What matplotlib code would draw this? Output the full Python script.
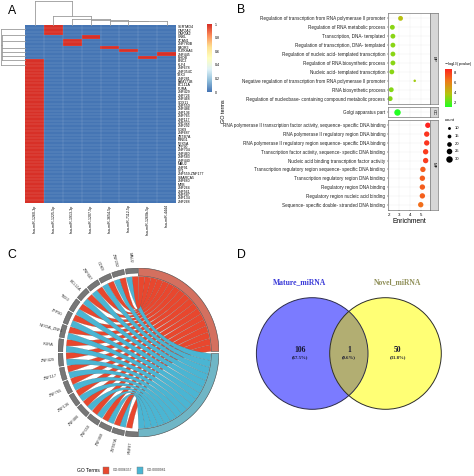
#!/usr/bin/env python3
"""Four panel miRNA target figure: heatmap, GO dot plot, GO chord, Venn."""
import numpy as np
import matplotlib
matplotlib.use("Agg")
import matplotlib.pyplot as plt
from matplotlib.colors import LinearSegmentedColormap
from matplotlib.patches import Circle, Path, PathPatch, Rectangle

plt.rcParams["font.family"] = ["Liberation Sans", "DejaVu Sans"]

W, H = 474, 476

# panel A
row_labels = [
    "SERTAD4", "CAPZA2", "CAPZA2", "UNKL", "ZCAN1", "ZNF780B", "PAQR3", "PLEKHA6", "ZNF445", "RHOB",
    "BNC2", "KLF4", "ZNF678", "ZNF354C", "TBX3", "ZNF281", "FAM171B", "BCL11A", "PURA", "ZNF429",
    "ZNF726", "ZNF468", "SOX11", "ZNF550", "ZNF486", "ZNF136", "ZNF765", "ZNF117", "ZNF322", "ZNF292",
    "CDK9", "ZNF687", "ZBTB7A", "RING1", "NFX5A", "ZFP90", "ZNF704", "ZNF460", "ZNF583", "ZNF440",
    "MAU2", "ZNF91", "SP1", "ZNF559-ZNF177", "SMARCA5", "ZNF680", "MYB", "ZNF264", "ZNF561", "ZNF587",
    "ZNF134", "ZNF268",
]
col_labels = [
    "hsa-miR-1260-3p", "hsa-miR-1225-5p", "hsa-miR-1913-3p", "hsa-miR-1207-5p",
    "hsa-miR-3654-5p", "hsa-miR-7112-5p", "hsa-miR-1260b-5p", "hsa-miR-4444",
]
# (row, column) cells that are 1, everything else is 0
hits_small = [(0, 1), (1, 1), (2, 1), (3, 3), (4, 2), (5, 2), (6, 4), (7, 5), (8, 7), (9, 6)]
first_col_rows = list(range(10, 52))
cbar_ticks_a = [0, 0.2, 0.4, 0.6, 0.8, 1]
# dendrogram segments, pixels in the dendrogram's own box
col_dendro = [(35, 25, 35, 1), (35, 1, 72, 1), (72, 1, 72, 16), (53, 16, 91, 16), (53, 16, 53, 25),
              (91, 16, 91, 19), (72, 19, 110, 19), (72, 19, 72, 25), (110, 19, 110, 20), (91, 20, 128, 20),
              (91, 20, 91, 25), (128, 20, 128, 20.5), (110, 20.5, 148, 20.5), (110, 20.5, 110, 25),
              (148, 20.5, 148, 21), (128, 21, 167, 21), (128, 21, 128, 25), (167, 21, 167, 25)]
row_dendro = [(1, 29, 1, 65), (1, 65, 25, 65), (1, 29, 25, 29), (2, 41, 25, 41), (2, 35, 25, 35),
              (2, 35, 2, 48), (2, 48, 25, 48), (2, 52, 25, 52), (2, 48, 2, 56), (2, 56, 25, 56),
              (2, 60, 25, 60), (2, 56, 2, 60), (1, 45, 2, 45)]

# panel B
bp_terms = [
    "Regulation of transcription from RNA polymerase II promoter",
    "Regulation of RNA metabolic process",
    "Transcription, DNA- templated",
    "Regulation of transcription, DNA- templated",
    "Regulation of nucleic acid- templated transcription",
    "Regulation of RNA biosynthetic process",
    "Nucleic acid- templated transcription",
    "Negative regulation of transcription from RNA polymerase II promoter",
    "RNA biosynthetic process",
    "Regulation of nucleobase- containing compound metabolic process",
]
bp_enrich = [3.1, 2.35, 2.4, 2.4, 2.4, 2.4, 2.3, 4.4, 2.25, 2.15]
bp_logp = [3.9, 3.0, 3.0, 3.0, 3.0, 3.0, 3.0, 3.4, 2.9, 2.9]
bp_count = [21, 21, 21, 21, 21, 21, 21, 8, 21, 21]
cc_terms = ["Golgi apparatus part"]
cc_enrich = [2.75]
cc_logp = [1.2]
cc_count = [30]
mf_terms = [
    "RNA polymerase II transcription factor activity, sequence- specific DNA binding",
    "RNA polymerase II regulatory region DNA binding",
    "RNA polymerase II regulatory region sequence- specific DNA binding",
    "Transcription factor activity, sequence- specific DNA binding",
    "Nucleic acid binding transcription factor activity",
    "Transcription regulatory region sequence- specific DNA binding",
    "Transcription regulatory region DNA binding",
    "Regulatory region DNA binding",
    "Regulatory region nucleic acid binding",
    "Sequence- specific double- stranded DNA binding",
]
mf_enrich = [5.6, 5.5, 5.5, 5.4, 5.4, 5.15, 5.1, 5.1, 5.1, 4.95]
mf_logp = [8.7, 8.2, 8.2, 8.0, 8.0, 7.1, 7.1, 7.1, 7.0, 6.6]
mf_count = [24, 24, 24, 24, 24, 24, 24, 24, 24, 24]
enrich_ticks = [2, 3, 4, 5]
logp_ticks = [2, 4, 6, 8]
count_ticks = [10, 15, 20, 25, 30]

# panel C, clockwise from the bottom
genes = ["RNF87", "ZBTB7A", "ZNF468", "ZNF550", "ZNF486", "ZNF136", "ZNF765", "ZNF117", "ZNF429",
         "PURA", "NFX5A_ZNF1", "ZFP90", "TBX3", "BCL11A", "ZNF687", "CDK9", "ZNF292", "MAU2"]
has_blue = [0] + [1] * 17
has_red = [1] * 18
go_terms = ["GO:0006357", "GO:0000981"]

# panel D
venn_names = ["Mature_miRNA", "Novel_miRNA"]
venn_counts = [106, 1, 50]


def px_axes(x0, y0, x1, y1, **kw):
    """Axes placed by reference pixels, y measured from the top."""
    return fig.add_axes([x0 / W, 1 - y1 / H, (x1 - x0) / W, (y1 - y0) / H], **kw)


fig = plt.figure(figsize=(W / 100, H / 100), dpi=100)

overlay = px_axes(0, 0, W, H)
overlay.set_xlim(0, W)
overlay.set_ylim(H, 0)
overlay.axis("off")
for letter, x, y in [("A", 12, 11), ("B", 241, 10), ("C", 12, 255), ("D", 241, 255)]:
    overlay.text(x, y, letter, fontsize=8.8, ha="center", va="center")

# A: heatmap, pheatmap's default palette stops short of the darkest RdYlBu ends
heat_cmap = LinearSegmentedColormap.from_list(
    "heat", ["#4575B4", "#91BFDB", "#E0F3F8", "#FFFFBF", "#FEE090", "#FC8D59", "#D73027"])
n_rows, n_cols = len(row_labels), len(col_labels)
matrix = np.zeros((n_rows, n_cols))
for r, c in hits_small:
    matrix[r, c] = 1
matrix[first_col_rows, 0] = 1
ax = px_axes(25, 25, 176, 203)
ax.imshow(matrix, cmap=heat_cmap, vmin=0, vmax=1, aspect="auto", interpolation="nearest",
          extent=[0, n_cols, n_rows, 0])
ax.hlines(np.arange(1, n_rows), 0, n_cols, color="white", lw=0.25, alpha=0.35)
ax.vlines(np.arange(1, n_cols), 0, n_rows, color="white", lw=0.25, alpha=0.35)
ax.set_xticks(np.arange(n_cols) + 0.5)
ax.set_xticklabels(col_labels, rotation=90, fontsize=2.6)
ax.set_yticks(np.arange(n_rows) + 0.5)
ax.set_yticklabels(row_labels, fontsize=2.5)
ax.yaxis.tick_right()
ax.tick_params(length=0, pad=1)
for s in ax.spines.values():
    s.set_visible(False)

for x0, y0, x1, y1 in col_dendro + row_dendro:
    overlay.plot([x0, x1], [y0, y1], color="#9a9a9a", lw=0.6, solid_capstyle="projecting")

cax = px_axes(207, 24, 212, 92)
cax.imshow(np.linspace(1, 0, 200)[:, None], cmap=heat_cmap, aspect="auto", extent=[0, 1, 0, 1])
cax.set_xticks([])
cax.yaxis.tick_right()
cax.set_yticks(cbar_ticks_a)
cax.set_yticklabels([f"{t:g}" for t in cbar_ticks_a], fontsize=2.6)
cax.tick_params(length=0, pad=2)
for s in cax.spines.values():
    s.set_visible(False)
overlay.text(224, 111, "GO terms", fontsize=4, rotation=90, ha="center", va="center")

# B: dot plot
green_red = LinearSegmentedColormap.from_list("gr", ["#22ff22", "#b5c40f", "#ef7a1a", "#ff1f1f"])
logp_min, logp_max = 1.2, 8.8


def dot_size(count):
    # pixel diameter grows with count, returned in points squared
    d = 2.5 + (np.asarray(count) - 8) * 0.18
    return (d * 0.72) ** 2


panels = [
    (13, 104, bp_terms, bp_enrich, bp_logp, bp_count, "BP"),
    (107, 117, cc_terms, cc_enrich, cc_logp, cc_count, "CC"),
    (120, 210, mf_terms, mf_enrich, mf_logp, mf_count, "MF"),
]
for y0, y1, terms, enrich, logp, count, strip in panels:
    ax = px_axes(388, y0, 430, y1)
    ypos = np.arange(len(terms))
    ax.set_axisbelow(True)
    ax.grid(color="#ececec", lw=0.3)
    ax.scatter(enrich, ypos, s=dot_size(count), c=logp, cmap=green_red, vmin=logp_min, vmax=logp_max,
               linewidths=0)
    ax.set_xlim(1.95, 5.8)
    ax.set_ylim(len(terms) - 0.4, -0.6)
    ax.set_yticks(ypos)
    ax.set_yticklabels(terms, fontsize=3.3, color="#222222")
    ax.set_xticks(enrich_ticks)
    ax.tick_params(length=1, width=0.3, pad=1)
    ax.tick_params(axis="x", labelsize=3.2)
    if strip != "MF":
        ax.tick_params(axis="x", length=0, labelbottom=False)
    for s in ax.spines.values():
        s.set_color("#777777")
        s.set_linewidth(0.5)
    sax = px_axes(430, y0, 438, y1)
    sax.set_facecolor("#d6d6d6")
    sax.set_xticks([])
    sax.set_yticks([])
    for s in sax.spines.values():
        s.set_color("#777777")
        s.set_linewidth(0.5)
    sax.text(0.5, 0.5, strip, transform=sax.transAxes, rotation=270, fontsize=3.2, ha="center", va="center")
    if strip == "MF":
        ax.set_xlabel("Enrichment", fontsize=4.8, labelpad=1)

cax = px_axes(445, 69, 452, 107)
cax.imshow(np.linspace(logp_max, logp_min, 200)[:, None], cmap=green_red, aspect="auto",
           extent=[0, 1, logp_min, logp_max])
cax.set_xticks([])
cax.yaxis.tick_right()
cax.set_yticks(logp_ticks)
cax.set_yticklabels([str(t) for t in logp_ticks], fontsize=3)
cax.tick_params(length=0, pad=1.5)
for s in cax.spines.values():
    s.set_visible(False)
overlay.text(444, 63.5, r"$-\log_{10}$(pvalue)", fontsize=2.7, ha="left", va="center")

overlay.text(445, 120, "count", fontsize=3, ha="left", va="center")
for i, c in enumerate(count_ticks):
    y = 128 + i * 7.8
    overlay.scatter([449], [y], s=dot_size(c), color="black", linewidths=0)
    overlay.text(455, y, str(c), fontsize=3, ha="left", va="center")

# C: chord
RED, BLUE = "#e8472e", "#4ab5d3"
RED_BAND, BLUE_BAND = "#d4705f", "#6fb6c6"
ax = px_axes(58, 268, 219, 437)
ax.set_xlim(-1, 1)
ax.set_ylim(-1, 1)
ax.axis("off")


def polar(r, deg):
    return r * np.cos(np.radians(deg)), r * np.sin(np.radians(deg))


def ring_segment(a0, a1, r0, r1, **kw):
    t = np.linspace(a0, a1, 30)
    xy = np.r_[np.c_[polar(r1, t)], np.c_[polar(r0, t[::-1])]]
    ax.fill(xy[:, 0], xy[:, 1], **kw)


def ribbon(g0, g1, s0, s1, color):
    # both arcs run clockwise, so the ribbon does not twist on the way across
    r = 0.9
    k = 0.15  # pull the control points a little off the centre to open up the lattice
    g_xy = np.c_[polar(r, np.linspace(g0, g1, 6))]
    s_xy = np.c_[polar(r, np.linspace(s0, s1, 12))]
    c1 = k * (g_xy[-1] + s_xy[0]) / 2
    c2 = k * (s_xy[-1] + g_xy[0]) / 2
    verts = list(g_xy) + [c1, s_xy[0]] + list(s_xy[1:]) + [c2, g_xy[0]]
    codes = ([Path.MOVETO] + [Path.LINETO] * (len(g_xy) - 1) + [Path.CURVE3, Path.CURVE3]
             + [Path.LINETO] * (len(s_xy) - 1) + [Path.CURVE3, Path.CURVE3])
    ax.add_patch(PathPatch(Path(verts, codes), facecolor=color, edgecolor="#5a5a5a", lw=0.12))


ring_segment(90, 0.8, 0.905, 1.0, facecolor=RED_BAND, edgecolor="#444444", lw=0.4)
ring_segment(-0.8, -90, 0.905, 1.0, facecolor=BLUE_BAND, edgecolor="#444444", lw=0.4)

n_genes = len(genes)
step = 180 / n_genes
gap = 1.1
red_total, blue_total = sum(has_red), sum(has_blue)
red_edges = np.linspace(0.8, 90, red_total + 1)       # index 0 is the bottom gene
blue_edges = np.linspace(-90, -0.8, blue_total + 1)
blue_i = 0
for i, gene in enumerate(genes):
    # angles run clockwise: 270 at the bottom down to 90 at the top
    a0 = 270 - i * step - gap / 2
    a1 = 270 - (i + 1) * step + gap / 2
    mid = (a0 + a1) / 2
    ring_segment(a0, a1, 0.94, 1.0, facecolor="#777777", edgecolor="#444444", lw=0.3)
    if has_blue[i]:
        ribbon(a0 + 0.3, mid, blue_edges[blue_i + 1], blue_edges[blue_i], BLUE)
        blue_i += 1
    ribbon(mid, a1 - 0.3, red_edges[i + 1], red_edges[i], RED)
    lx, ly = polar(1.13, mid)
    ax.text(lx, ly, gene, fontsize=2.8, rotation=mid - 180, ha="center", va="center", color="#333333",
            rotation_mode="anchor", clip_on=False)

overlay.text(88, 470, "GO Terms", fontsize=3.6, ha="center", va="center")
for x, color, term in [(103, RED, go_terms[0]), (137, BLUE, go_terms[1])]:
    overlay.add_patch(Rectangle((x, 467), 6.5, 6.5, facecolor=color, edgecolor="#777777", lw=0.3))
    overlay.text(x + 10, 470.2, term, fontsize=2.4, ha="left", va="center", color="#333333")

# D: Venn
ax = px_axes(250, 290, 450, 415)
ax.set_xlim(250, 450)
ax.set_ylim(415, 290)
ax.axis("off")
r = 55.8
c_left = (312.2, 353.5)
c_right = (385.5, 353.5)
ax.add_patch(Circle(c_left, r, facecolor="#7b7bff", edgecolor="none"))
ax.add_patch(Circle(c_right, r, facecolor="#ffff75", edgecolor="none"))
overlap = Circle(c_right, r, facecolor="#b2ae72", edgecolor="none")
ax.add_patch(overlap)
overlap.set_clip_path(Circle(c_left, r, transform=ax.transData))
ax.add_patch(Circle(c_left, r, facecolor="none", edgecolor="#2c2c4a", lw=0.7))
ax.add_patch(Circle(c_right, r, facecolor="none", edgecolor="#2c2c2a", lw=0.7))

total = sum(venn_counts)
for x, n in zip([300, 349, 397.5], venn_counts):
    overlay.text(x, 350.5, str(n), family="Liberation Serif", fontweight="bold", fontsize=5.5,
                 ha="center", va="center", color="#15152f")
    overlay.text(x, 356.7, f"({n / total * 100:.1f}%)", family="Liberation Serif", fontweight="bold",
                 fontsize=3.4, ha="center", va="center", color="#15152f")
overlay.text(300, 282, venn_names[0], family="Liberation Serif", fontweight="bold", fontsize=5.5,
             ha="center", va="center", color="#3a3ad8")
overlay.text(398, 282, venn_names[1], family="Liberation Serif", fontweight="bold", fontsize=5.5,
             ha="center", va="center", color="#8f8f58")

overlay.set_zorder(5)
fig.savefig("out.png", dpi=100)
